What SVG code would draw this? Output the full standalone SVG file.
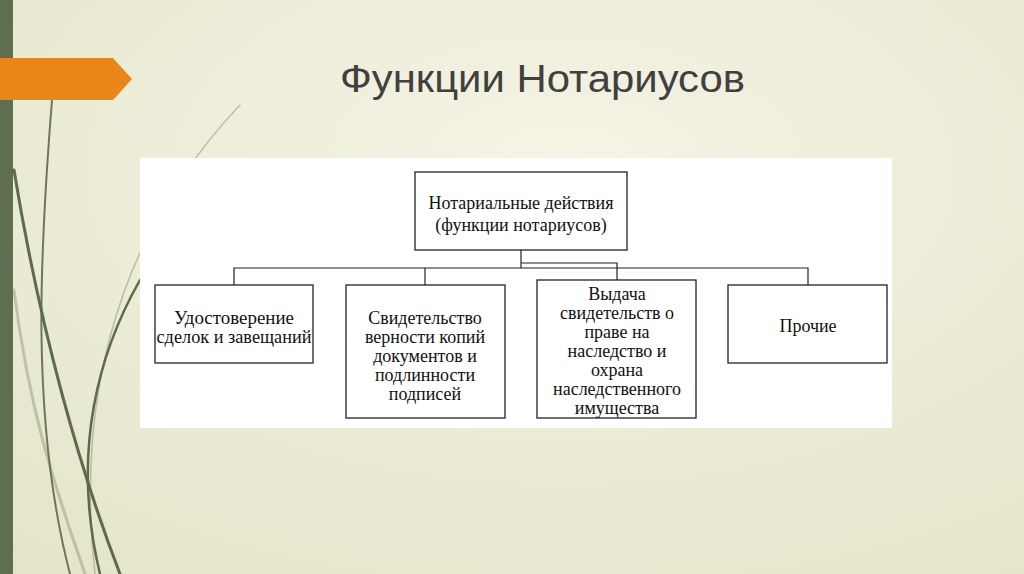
<svg xmlns="http://www.w3.org/2000/svg" width="1024" height="574" viewBox="0 0 1024 574">
<defs>
<radialGradient id="bg" cx="0.55" cy="0.3" r="0.9">
<stop offset="0" stop-color="#f5f4e6"/><stop offset="1" stop-color="#e4e4c8"/>
</radialGradient>
<style>
.b{fill:#fff;stroke:#222;stroke-width:1.3}
.t{font-family:"Liberation Serif",serif;font-size:18px;fill:#111;text-anchor:middle}
.c{fill:none;stroke:#222;stroke-width:1.2}
.g{fill:none;stroke:#5d6b4a;stroke-linecap:round}
</style>
</defs>
<rect width="1024" height="574" fill="url(#bg)"/>
<g id="decor">
<path class="g" d="M52 100 C40 250 30 420 70 574" stroke-width="2" opacity="0.9"/>
<path class="g" d="M14 170 C40 330 80 470 120 574" stroke-width="3"/>
<path class="g" d="M140 280 C100 350 70 450 100 574" stroke-width="2.5"/>
<path class="g" d="M240 105 C150 200 70 350 95 574" stroke-width="1.5" opacity="0.35"/>
<path class="g" d="M14 290 C30 420 60 500 85 574" stroke-width="3" opacity="0.3"/>
<rect x="0" y="0" width="13" height="574" fill="#5f6e4e"/>
<polygon points="0,58 113,58 132,79 113,100 0,100" fill="#e8861a"/>
</g>
<text x="340" y="92" font-family="Liberation Sans,sans-serif" font-size="38" fill="#404040" textLength="405" lengthAdjust="spacingAndGlyphs">Функции Нотариусов</text>
<rect x="140" y="158" width="752" height="270" fill="#fff"/>
<g id="connectors">
<path class="c" d="M521 250 V268 M234 285 V268 H808 V285 M425 268 V285 M521 263 H617 V280"/>
</g>
<g id="root"><rect class="b" x="415" y="172" width="212" height="78"/>
<text class="t" x="521" y="209">Нотариальные действия</text><text class="t" x="521" y="231">(функции нотариусов)</text></g>
<g id="n1"><rect class="b" x="155" y="285" width="158" height="78"/>
<text class="t" x="234" y="324" textLength="120" lengthAdjust="spacingAndGlyphs">Удостоверение</text><text class="t" x="234" y="343" textLength="155" lengthAdjust="spacingAndGlyphs">сделок и завещаний</text></g>
<g id="n2"><rect class="b" x="346" y="285" width="159" height="133"/>
<text class="t" x="425" y="324">Свидетельство</text><text class="t" x="425" y="343">верности копий</text><text class="t" x="425" y="362">документов и</text><text class="t" x="425" y="381">подлинности</text><text class="t" x="425" y="400">подписей</text></g>
<g id="n3"><rect class="b" x="537" y="280" width="159" height="138"/>
<text class="t" x="617" y="300">Выдача</text><text class="t" x="617" y="319">свидетельств о</text><text class="t" x="617" y="338">праве на</text><text class="t" x="617" y="357">наследство и</text><text class="t" x="617" y="376">охрана</text><text class="t" x="617" y="395">наследственного</text><text class="t" x="617" y="414">имущества</text></g>
<g id="n4"><rect class="b" x="728" y="285" width="159" height="78"/>
<text class="t" x="808" y="332">Прочие</text></g>
</svg>
